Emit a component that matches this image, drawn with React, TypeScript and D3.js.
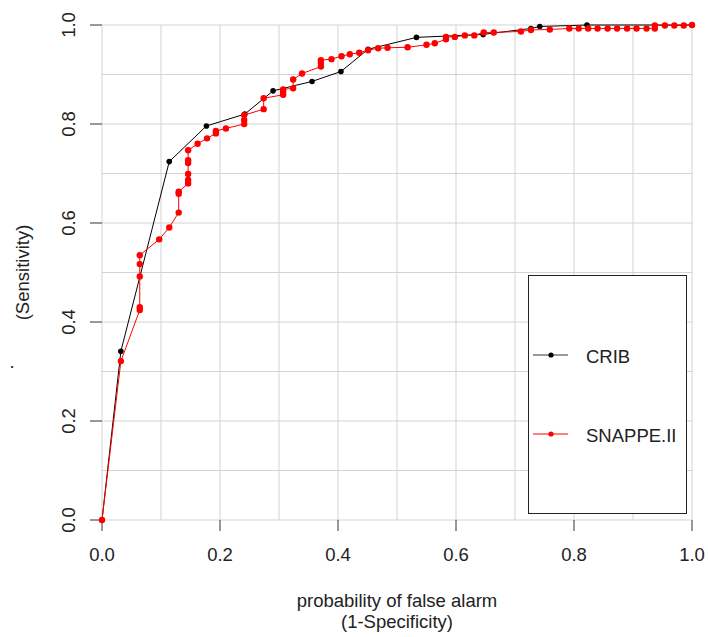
import React from "react";
import * as d3 from "d3";

const cribX = [0, 0.032, 0.114, 0.177, 0.242, 0.29, 0.356, 0.405, 0.451, 0.533, 0.646, 0.727, 0.742, 0.822, 1.0];
const cribY = [0, 0.341, 0.724, 0.796, 0.82, 0.867, 0.886, 0.906, 0.951, 0.975, 0.981, 0.993, 0.997, 1.0, 1.0];

const snapX = [
  0, 0.032, 0.064, 0.064, 0.064, 0.064, 0.064, 0.097, 0.114, 0.13, 0.13, 0.13,
  0.146, 0.146, 0.146, 0.146, 0.146, 0.146, 0.162, 0.178, 0.193, 0.193, 0.21,
  0.241, 0.241, 0.241, 0.274, 0.274, 0.307, 0.307, 0.307, 0.324, 0.324, 0.339,
  0.371, 0.371, 0.371, 0.389, 0.406, 0.42, 0.436, 0.451, 0.468, 0.484, 0.518,
  0.55, 0.564, 0.583, 0.583, 0.598, 0.615, 0.631, 0.647, 0.664, 0.71, 0.727,
  0.759, 0.792, 0.808, 0.824, 0.84, 0.857, 0.873, 0.89, 0.906, 0.923, 0.937,
  0.937, 0.954, 0.97, 0.986, 1.0,
];
const snapY = [
  0, 0.321, 0.424, 0.43, 0.492, 0.517, 0.535, 0.567, 0.591, 0.621, 0.659, 0.663,
  0.68, 0.687, 0.699, 0.721, 0.727, 0.747, 0.76, 0.771, 0.781, 0.786, 0.791,
  0.8, 0.808, 0.818, 0.83, 0.852, 0.859, 0.865, 0.87, 0.872, 0.89, 0.902,
  0.916, 0.923, 0.929, 0.931, 0.937, 0.941, 0.944, 0.949, 0.953, 0.954, 0.955,
  0.96, 0.963, 0.971, 0.976, 0.976, 0.979, 0.979, 0.985, 0.985, 0.987, 0.99,
  0.991, 0.993, 0.993, 0.993, 0.993, 0.993, 0.993, 0.993, 0.993, 0.993, 0.993,
  0.999, 0.999, 0.999, 0.999, 1.0,
];

const tickValues = [0, 0.2, 0.4, 0.6, 0.8, 1.0];
const tickLabels = ["0.0", "0.2", "0.4", "0.6", "0.8", "1.0"];
const gridValues = [0, 0.1, 0.2, 0.3, 0.4, 0.5, 0.6, 0.7, 0.8, 0.9, 1.0];
const seriesNames = ["CRIB", "SNAPPE.II"];
const seriesColors = ["#000000", "#ff0000"];
const xTitle = ["probability of false alarm", "(1-Specificity)"];
const yTitle = "(Sensitivity)";

const FONT = "'Liberation Sans', Arial, Helvetica, sans-serif";
const FS = 18.5;
const TXT = "#222";

export default function App() {
  const x = d3.scaleLinear().domain([0, 1]).range([102, 692]);
  const y = d3.scaleLinear().domain([0, 1]).range([520, 25]);
  const line = d3
    .line<[number, number]>()
    .x((d) => x(d[0]))
    .y((d) => y(d[1]));

  const crib: [number, number][] = cribX.map((v, i) => [v, cribY[i]]);
  const snap: [number, number][] = snapX.map((v, i) => [v, snapY[i]]);

  return (
    <svg
      width={708}
      height={637}
      style={{ position: "absolute", left: 0, top: 0, background: "#fff" }}
      fontFamily={FONT}
    >
      <rect x={0} y={0} width={708} height={637} fill="#fff" />
      {/* grid */}
      {gridValues.map((g) => (
        <line key={"gv" + g} x1={x(g)} x2={x(g)} y1={y(0)} y2={y(1)} stroke="#d3d3d3" strokeWidth={1} />
      ))}
      {gridValues.map((g) => (
        <line key={"gh" + g} x1={x(0)} x2={x(1)} y1={y(g)} y2={y(g)} stroke="#d3d3d3" strokeWidth={1} />
      ))}
      {/* axes ticks */}
      {tickValues.map((t, i) => (
        <g key={"xt" + t}>
          <line x1={x(t)} x2={x(t)} y1={y(0)} y2={y(0) + 11} stroke="#333" strokeWidth={1} />
          <text x={x(t)} y={561} textAnchor="middle" fontSize={FS} fill={TXT}>
            {tickLabels[i]}
          </text>
        </g>
      ))}
      {tickValues.map((t, i) => (
        <g key={"yt" + t}>
          <line x1={x(0) - 12} x2={x(0)} y1={y(t)} y2={y(t)} stroke="#333" strokeWidth={1} />
          <text
            transform={`translate(75,${y(t)}) rotate(-90)`}
            textAnchor="middle"
            fontSize={FS}
            fill={TXT}
          >
            {tickLabels[i]}
          </text>
        </g>
      ))}
      {/* axis titles */}
      <text x={(x(0) + x(1)) / 2} y={607} textAnchor="middle" fontSize={FS} fill={TXT}>
        {xTitle[0]}
      </text>
      <text x={(x(0) + x(1)) / 2} y={627.5} textAnchor="middle" fontSize={FS} fill={TXT}>
        {xTitle[1]}
      </text>
      <text
        transform={`translate(29,${(y(0) + y(1)) / 2}) rotate(-90)`}
        textAnchor="middle"
        fontSize={FS}
        fill={TXT}
      >
        {yTitle}
      </text>
      <text x={12} y={367.5} textAnchor="middle" fontSize={FS} fill={TXT}>
        .
      </text>
      {/* CRIB series */}
      <path d={line(crib) || ""} fill="none" stroke={seriesColors[0]} strokeWidth={1} />
      {crib.map((d, i) => (
        <circle key={"c" + i} cx={x(d[0])} cy={y(d[1])} r={2.8} fill={seriesColors[0]} />
      ))}
      {/* SNAPPE.II series */}
      <path d={line(snap) || ""} fill="none" stroke={seriesColors[1]} strokeWidth={1} />
      {snap.map((d, i) => (
        <circle key={"s" + i} cx={x(d[0])} cy={y(d[1])} r={3.2} fill={seriesColors[1]} />
      ))}
      {/* legend */}
      <rect x={528.5} y={275.5} width={158} height={238} fill="#fff" stroke="#222" strokeWidth={1} />
      {seriesNames.map((name, i) => {
        const ly = i === 0 ? 355 : 434;
        return (
          <g key={"lg" + name}>
            <line x1={533} x2={568} y1={ly} y2={ly} stroke={i === 0 ? "#333" : seriesColors[1]} strokeWidth={1} />
            <circle cx={551} cy={ly} r={2.6} fill={seriesColors[i]} />
            <text x={586} y={ly + 8} fontSize={FS} fill={TXT}>
              {name}
            </text>
          </g>
        );
      })}
    </svg>
  );
}
